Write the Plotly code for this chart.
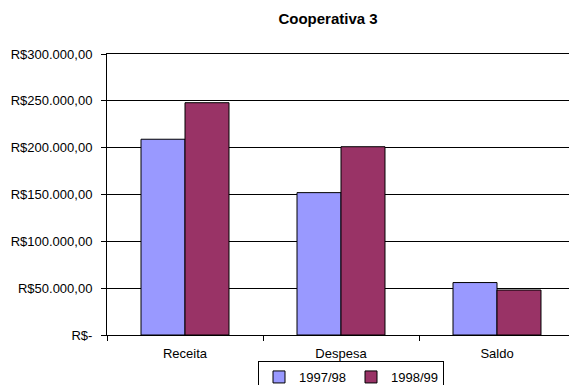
import plotly.graph_objects as go

# Financial summary per category, two harvest years
categories = ["Receita", "Despesa", "Saldo"]
series_names = ["1997/98", "1998/99"]
values_9798 = [209000, 152000, 56000]
values_9899 = [248000, 201000, 48000]
colors = ["#9999FF", "#993366"]

# Y axis ticks in Brazilian currency format
tick_values = [0, 50000, 100000, 150000, 200000, 250000, 300000]
tick_labels = ["R$-", "R$50.000,00", "R$100.000,00", "R$150.000,00",
               "R$200.000,00", "R$250.000,00", "R$300.000,00"]

FONT = "Arial, Liberation Sans, sans-serif"
W, H = 569, 385
L, T, B = 107, 54, 50

fig = go.Figure()
for name, vals, col in zip(series_names, [values_9798, values_9899], colors):
    fig.add_trace(go.Bar(
        x=categories, y=vals, name=name,
        marker=dict(color=col, line=dict(color="#000000", width=1)),
    ))

fig.update_layout(
    width=W, height=H,
    margin=dict(l=L, r=0, t=T, b=B, autoexpand=False),
    paper_bgcolor="white", plot_bgcolor="white",
    barmode="group", bargap=0.436, bargroupgap=0,
    font=dict(family=FONT, size=13, color="#000000"),
    title=dict(text="<b>Cooperativa 3</b>", font=dict(size=15, family=FONT),
               xref="paper", x=(328 - L) / (W - L), xanchor="center",
               yref="container", y=1 - 19 / H, yanchor="middle"),
    showlegend=True,
    legend=dict(orientation="h", x=(351 - L) / (W - L), xanchor="center",
                y=(H - B - 361) / (H - B - T), yanchor="top",
                bordercolor="#000000", borderwidth=1,
                font=dict(size=13), itemwidth=30, traceorder="normal",
                bgcolor="rgba(0,0,0,0)"),
    xaxis=dict(type="category", range=[-0.5, 2.5 - 6 / 156],
               showline=True, linecolor="#000000", linewidth=1, mirror=True,
               ticks="outside", ticklen=5, tickcolor="#000000",
               tickson="boundaries", showgrid=False, ticklabelstandoff=6,
               tickfont=dict(size=13)),
    yaxis=dict(range=[0, 300000], tickvals=tick_values, ticktext=tick_labels,
               showline=True, linecolor="#000000", linewidth=1,
               ticks="outside", ticklen=5, tickcolor="#000000",
               showgrid=True, gridcolor="#000000", gridwidth=1,
               zeroline=False, ticklabelstandoff=6, tickfont=dict(size=13)),
)

fig.write_html("out.html")
